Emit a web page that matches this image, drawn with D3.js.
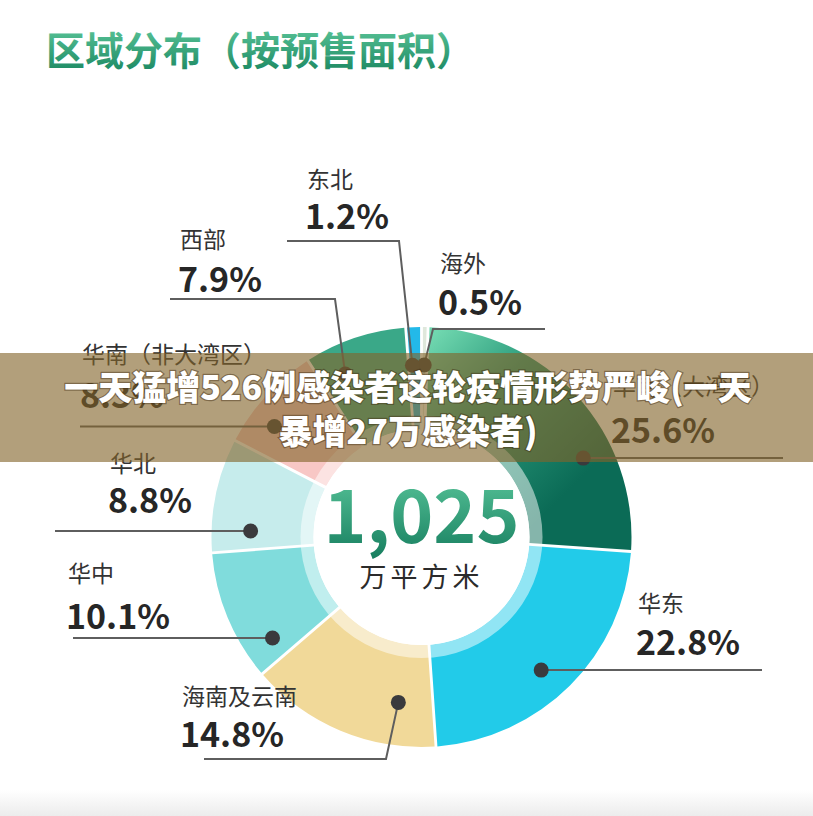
<!DOCTYPE html>
<html><head><meta charset="utf-8">
<script src="https://cdn.jsdelivr.net/npm/d3@7/dist/d3.min.js"></script>
<style>
html,body{margin:0;padding:0;background:#fff;}
svg{display:block;}
text{font-family:"Noto Sans CJK SC","Noto Sans",sans-serif;}
</style></head>
<body>
<svg id="chart" width="813" height="816"></svg>
<script>
// ---- data ----
const regions = ["海外","华南（大湾区）","华东","海南及云南","华中","华北","华南（非大湾区）","西部","东北"];
const shares  = [0.5, 25.6, 22.8, 14.8, 10.1, 8.8, 8.3, 7.9, 1.2];
const totalArea = 1025;
const totalUnit = "万平方米";
const titleText = "区域分布（按预售面积）";
const bannerLines = ["一天猛增526例感染者这轮疫情形势严峻(一天","暴增27万感染者)"];

// ---- styles / layout ----
const colors = ["#dfe8dc","url(#gBay)","#22cbe9","#f1d999","#80dcdc","#c6ecec","#f8c7c5","#3aa888","#23b9e9"];
// per slice: fraction along slice for dot, dot radius, label x, name baseline, value baseline,
// line y (null -> dot y), line end x, elbow x (null -> straight horizontal)
const layout = [
  {f:0.5,  r:172, tx:440, nameY:272, valY:315, lineY:329, endX:545, elbowX:433},
  {f:0.675,r:180, tx:613, nameY:395, valY:443, lineY:null,endX:783, elbowX:null},
  {f:0.537,r:179, tx:638, nameY:612, valY:655, lineY:null,endX:762, elbowX:null},
  {f:0.224,r:167, tx:182, nameY:705, valY:747, lineY:759, endX:204, elbowX:386},
  {f:0.18, r:180, tx:68,  nameY:582, valY:629, lineY:null,endX:73,  elbowX:null},
  {f:0.2,  r:171, tx:110, nameY:472, valY:513, lineY:null,endX:55,  elbowX:null},
  {f:0.32, r:184, tx:82,  nameY:363, valY:408, lineY:null,endX:80,  elbowX:null},
  {f:0.27, r:180, tx:180, nameY:248, valY:292, lineY:299, endX:170, elbowX:335},
  {f:0.3,  r:172, tx:307, nameY:188, valY:229, lineY:241, endX:287, elbowX:399}
];
const cx = 421.5, cy = 537, rOuter = 210, rInner = 108, rRing = 121;

const svg = d3.select("#chart");
const defs = svg.append("defs");
// gradient coordinates are in the pie group's (centre-relative) user space
const gBay = defs.append("linearGradient").attr("id","gBay").attr("gradientUnits","userSpaceOnUse")
  .attr("x1",15).attr("y1",-205).attr("x2",160).attr("y2",-60);
gBay.append("stop").attr("offset","0%").attr("stop-color","#70d7af");
gBay.append("stop").attr("offset","40%").attr("stop-color","#2e9e7e");
gBay.append("stop").attr("offset","100%").attr("stop-color","#0b6b56");
const gTitle = defs.append("linearGradient").attr("id","gTitle").attr("x1",0).attr("y1",0).attr("x2",0).attr("y2",1);
gTitle.append("stop").attr("offset","0%").attr("stop-color","#62cc9f");
gTitle.append("stop").attr("offset","100%").attr("stop-color","#17845e");
const gNum = defs.append("linearGradient").attr("id","gNum").attr("x1",0).attr("y1",0).attr("x2",0).attr("y2",1);
gNum.append("stop").attr("offset","0%").attr("stop-color","#62cfa2");
gNum.append("stop").attr("offset","100%").attr("stop-color","#137a5c");
const gBottom = defs.append("linearGradient").attr("id","gBottom").attr("x1",0).attr("y1",0).attr("x2",0).attr("y2",1);
gBottom.append("stop").attr("offset","0%").attr("stop-color","#ffffff");
gBottom.append("stop").attr("offset","100%").attr("stop-color","#ececec");

svg.append("rect").attr("x",0).attr("y",790).attr("width",813).attr("height",26).attr("fill","url(#gBottom)");

// title
svg.append("text").attr("x",46).attr("y",65).attr("font-size",39).attr("font-weight",700)
  .attr("fill","url(#gTitle)").text(titleText);

// pie
const pie = d3.pie().sort(null).value(d=>d).startAngle(0).endAngle(2*Math.PI);
const arcs = pie(shares);
const arc = d3.arc().innerRadius(rInner).outerRadius(rOuter).padAngle(0.012);
const g = svg.append("g").attr("transform",`translate(${cx},${cy})`);
g.selectAll("path.slice").data(arcs).join("path").attr("class","slice")
  .attr("d",arc).attr("fill",(d,i)=>colors[i]);
// translucent inner ring and white core
g.append("path").attr("d",d3.arc().innerRadius(rInner-1).outerRadius(rRing).startAngle(0).endAngle(2*Math.PI)())
  .attr("fill","#fff").attr("opacity",0.5);
g.append("circle").attr("r",rInner).attr("fill","#fff");

// centre text
g.append("text").attr("text-anchor","middle").attr("y",6).attr("font-size",73).attr("font-weight",700)
  .attr("font-family","'Noto Sans','Noto Sans CJK SC',sans-serif").attr("fill","url(#gNum)")
  .text(d3.format(",")(totalArea));
g.append("text").attr("text-anchor","middle").attr("y",50).attr("font-size",27).attr("fill","#2b2b2b")
  .attr("letter-spacing",4).text(totalUnit);

// leader lines, dots, labels
const dotPos = (d,i)=>{
  const a = d.startAngle + layout[i].f*(d.endAngle-d.startAngle);
  return [cx + layout[i].r*Math.sin(a), cy - layout[i].r*Math.cos(a)];
};
const lab = svg.append("g");
arcs.forEach((d,i)=>{
  const L = layout[i];
  const [px,py] = dotPos(d,i);
  let pts;
  if (L.elbowX===null) pts = [[px,py],[L.endX,py]];
  else pts = [[px,py],[L.elbowX,L.lineY],[L.endX,L.lineY]];
  lab.append("path").attr("d",d3.line()(pts)).attr("fill","none").attr("stroke","#5e5e5e").attr("stroke-width",2);
  lab.append("circle").attr("cx",px).attr("cy",py).attr("r",7.5).attr("fill","#3a3a3d");
  lab.append("text").attr("x",L.tx).attr("y",L.nameY).attr("font-size",23).attr("fill","#333").text(regions[i]);
  lab.append("text").attr("x",L.tx-2).attr("y",L.valY).attr("font-size",34).attr("font-weight",700)
    .attr("fill","#262626").text(d3.format(".1f")(shares[i])+"%");
});

// overlay banner
svg.append("rect").attr("x",0).attr("y",353).attr("width",813).attr("height",109)
  .attr("fill","rgb(130,100,42)").attr("opacity",0.62);
bannerLines.forEach((t,i)=>{
  svg.append("text").attr("x",408).attr("y",400+i*44).attr("text-anchor","middle")
    .attr("font-size",34).attr("font-weight",900).attr("fill","#fff")
    .attr("stroke","rgba(60,40,15,0.45)").attr("stroke-width",2.5).attr("paint-order","stroke")
    .text(t);
});
</script>
</body></html>
